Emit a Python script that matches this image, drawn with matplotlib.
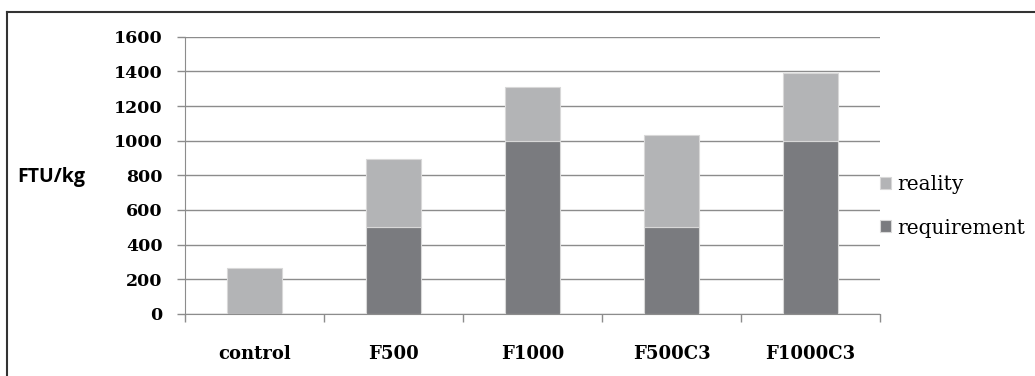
import matplotlib.pyplot as plt
from matplotlib.lines import Line2D
import numpy as np

# data
categories = ['control', 'F500', 'F1000', 'F500C3', 'F1000C3']
requirement = [0, 500, 1000, 500, 1000]
reality = [263, 393, 310, 531, 391]   # amount on top of requirement
yticks = [0, 200, 400, 600, 800, 1000, 1200, 1400, 1600]

C_REAL = '#b3b4b6'
C_REQ = '#7a7b7f'
SERIF = ['DejaVu Serif']

fig = plt.figure(figsize=(10.35, 3.76), dpi=100)
ax = fig.add_axes([0.1787, 0.165, 0.6715, 0.7374])

x = np.arange(len(categories))
ax.bar(x, requirement, width=0.4, color=C_REQ, edgecolor='#d8d8d8', linewidth=0.8,
       label='requirement', zorder=3)
ax.bar(x, reality, width=0.4, bottom=requirement, color=C_REAL, edgecolor='#d8d8d8',
       linewidth=0.8, label='reality', zorder=3)

ax.set_xlim(-0.5, len(categories) - 0.5)
ax.set_ylim(0, 1600)
ax.set_yticks(yticks)
ax.set_yticklabels([str(v) for v in yticks], fontfamily=SERIF, fontweight='bold', fontsize=12.5)
ax.yaxis.grid(True, color='#8c8c8c', linewidth=1.0, zorder=0)
ax.set_axisbelow(True)

# category ticks between bars, labels centred under bars
ax.set_xticks(np.arange(len(categories) + 1) - 0.5)
ax.set_xticklabels([])
ax.set_xticks(x, minor=True)
ax.set_xticklabels(categories, minor=True, fontfamily=SERIF, fontweight='bold', fontsize=13)
ax.tick_params(axis='x', which='minor', length=0, pad=22)
ax.tick_params(axis='x', which='major', length=6, color='#8c8c8c', width=1)
ax.tick_params(axis='y', length=6, color='#8c8c8c', width=1, pad=10)

for s in ['top', 'right']:
    ax.spines[s].set_visible(False)
ax.spines['left'].set_color('#8c8c8c')
ax.spines['bottom'].set_color('#8c8c8c')

fig.text(0.017, 0.529, 'FTU/kg', fontfamily=['Open Sans', 'DejaVu Sans'], fontweight='bold',
         fontsize=14, va='center', ha='left')

handles, labels = ax.get_legend_handles_labels()
leg = fig.legend(handles[::-1], labels[::-1], loc='center left', bbox_to_anchor=(0.85, 0.451),
                 frameon=False, prop={'family': SERIF, 'size': 14.5}, handlelength=0.55,
                 handleheight=0.55, handletextpad=0.3, labelspacing=1.2, borderpad=0,
                 borderaxespad=0)

# frame lines (left and top of the figure box)
fig.add_artist(Line2D([7 / 1035, 7 / 1035], [0, 1 - 12 / 376], color='#333333', linewidth=1.5))
fig.add_artist(Line2D([7 / 1035, 1], [1 - 12 / 376, 1 - 12 / 376], color='#333333', linewidth=1.5))

fig.savefig('out.png', dpi=100)
